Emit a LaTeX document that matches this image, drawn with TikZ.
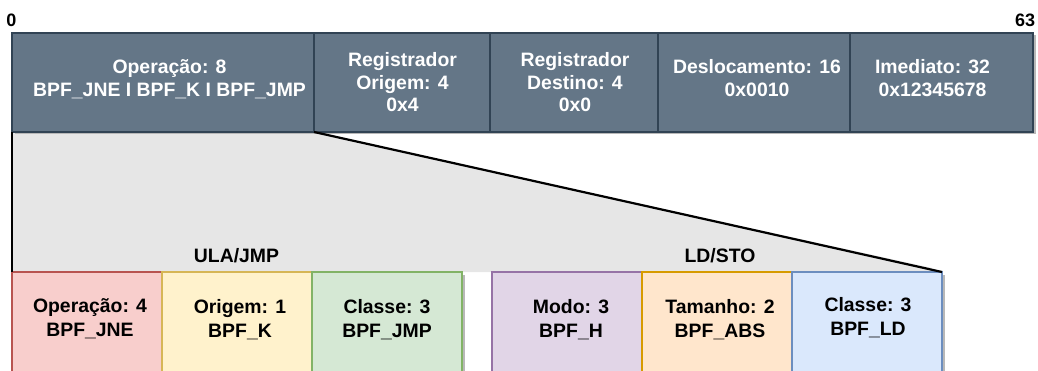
\documentclass[tikz,border=0pt]{standalone}
\usepackage{fontspec}
\setmainfont{Liberation Sans}
\usetikzlibrary{shadows}

\definecolor{slatefill}{HTML}{647687}
\definecolor{slatedraw}{HTML}{314354}
\definecolor{bandgray}{HTML}{E6E6E6}
\definecolor{redfill}{HTML}{F8CECC}
\definecolor{reddraw}{HTML}{B85450}
\definecolor{yellowfill}{HTML}{FFF2CC}
\definecolor{yellowdraw}{HTML}{D6B656}
\definecolor{greenfill}{HTML}{D5E8D4}
\definecolor{greendraw}{HTML}{82B366}
\definecolor{purplefill}{HTML}{E1D5E7}
\definecolor{purpledraw}{HTML}{9673A6}
\definecolor{orangefill}{HTML}{FFE6CC}
\definecolor{orangedraw}{HTML}{D79B00}
\definecolor{bluefill}{HTML}{DAE8FC}
\definecolor{bluedraw}{HTML}{6C8EBF}

\newcommand\fieldfont{\fontsize{19.4}{22.5}\selectfont\bfseries}
\newcommand\subfont{\fontsize{19.4}{24}\selectfont\bfseries}
\newcommand\bitfont{\fontsize{18}{20}\selectfont\bfseries}

\begin{document}
\begin{tikzpicture}[x=1pt,y=-1pt,
  every node/.style={inner sep=0pt, outer sep=0pt},
  shadowed/.style={drop shadow={shadow xshift=2.5pt,shadow yshift=-2.5pt,fill=black!28,opacity=1}},
  topfield/.style={rectangle, shadowed, line width=2.6pt, draw=slatedraw, fill=slatefill,
    minimum height=99pt},
  subfield/.style n args={2}{rectangle, shadowed, line width=2pt, draw=#1, fill=#2,
    minimum width=150pt, minimum height=130pt},
  toptext/.style={anchor=base, align=center, font=\fieldfont, text=white},
  subtext/.style={anchor=base, align=center, font=\subfont, text=black},
  bitlabel/.style={anchor=base, font=\bitfont},
  link/.style={line width=2.2pt, black}
]
\useasboundingbox (0,0) rectangle (1038,371);
\clip (0,0) rectangle (1038,371);

% grey band that expands the opcode byte
\fill[bandgray] (12,132) -- (313,132) -- (932,268) -- (932,272) -- (12,272) -- cycle;

% 64-bit instruction word
\node[topfield, minimum width=302pt] (op)   at (163,82.5)   {};
\node[topfield, minimum width=176pt] (src)  at (402,82.5)   {};
\node[topfield, minimum width=168pt] (dst)  at (574,82.5)   {};
\node[topfield, minimum width=192pt] (off)  at (754,82.5)   {};
\node[topfield, minimum width=183pt] (imm)  at (941.5,82.5) {};

% multi-line labels sit on the baseline of their last line
\node[toptext] (opT)  at (169.5,96.5) {Operação: 8\\BPF\_JNE I BPF\_K I BPF\_JMP};
\node[toptext] (srcT) at (402.5,112)  {Registrador\\Origem: 4\\0x4};
\node[toptext] (dstT) at (575,112)    {Registrador\\Destino: 4\\0x0};
\node[toptext] (offT) at (757,96.5)   {Deslocamento: 16\\0x0010};
\node[toptext] (immT) at (932.5,96.5) {Imediato: 32\\0x12345678};

\node[bitlabel] (b0)  at (11.5,27) {0};
\node[bitlabel] (b63) at (1025,27) {63};

% opcode sub-fields
\node[subfield={reddraw}{redfill}]       (aluop)  at (87,337)  {};
\node[subfield={yellowdraw}{yellowfill}] (alusrc) at (237,337) {};
\node[subfield={greendraw}{greenfill}]   (alucls) at (387,337) {};
\node[subfield={purpledraw}{purplefill}] (ldmode) at (567,337) {};
\node[subfield={orangedraw}{orangefill}] (ldsize) at (717,337) {};
\node[subfield={bluedraw}{bluefill}]     (ldcls)  at (867,337) {};

\node[subtext] (aluopT)  at (90,336.5)  {Operação: 4\\BPF\_JNE};
\node[subtext] (alusrcT) at (240,337)   {Origem: 1\\BPF\_K};
\node[subtext] (aluclsT) at (387,337)   {Classe: 3\\BPF\_JMP};
\node[subtext] (ldmodeT) at (571,337.5) {Modo: 3\\BPF\_H};
\node[subtext] (ldsizeT) at (720,337)   {Tamanho: 2\\BPF\_ABS};
\node[subtext] (ldclsT)  at (868,335)   {Classe: 3\\BPF\_LD};

\node[subtext] (alu) at (236.5,262) {ULA/JMP};
\node[subtext] (ld)  at (720,262)   {LD/STO};

% expansion edges
\draw[link] (op.south west) -- (aluop.north west);
\draw[link] (op.south east) -- (ldcls.north east);
\end{tikzpicture}
\end{document}
